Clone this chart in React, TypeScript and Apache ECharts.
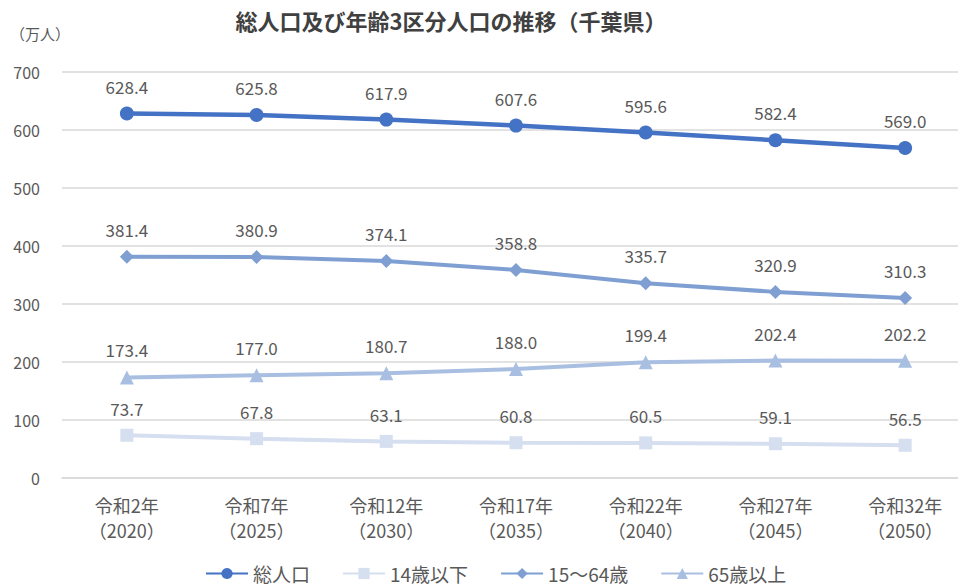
import React, { useEffect, useRef } from "react";
import * as echarts from "echarts";

const categories = [
  "令和2年\n（2020）",
  "令和7年\n（2025）",
  "令和12年\n（2030）",
  "令和17年\n（2035）",
  "令和22年\n（2040）",
  "令和27年\n（2045）",
  "令和32年\n（2050）",
];
const total = [628.4, 625.8, 617.9, 607.6, 595.6, 582.4, 569.0];
const under14 = [73.7, 67.8, 63.1, 60.8, 60.5, 59.1, 56.5];
const age15to64 = [381.4, 380.9, 374.1, 358.8, 335.7, 320.9, 310.3];
const over65 = [173.4, 177.0, 180.7, 188.0, 199.4, 202.4, 202.2];
const yTicks = [0, 100, 200, 300, 400, 500, 600, 700];

const FONT = "'Noto Sans CJK JP', 'Noto Sans', sans-serif";

export default function App() {
  const ref = useRef<HTMLDivElement>(null);
  useEffect(() => {
    document.body.style.margin = "0";
    document.body.style.overflow = "hidden";
    if (!ref.current) return;
    const chart = echarts.init(ref.current, null, { renderer: "svg" });
    const mk = (name: string, data: number[], color: string, symbol: string, size: number, width: number, z: number) => ({
      name,
      type: "line",
      data,
      symbol,
      symbolSize: size,
      z,
      lineStyle: { color, width },
      itemStyle: { color },
      label: {
        show: true,
        position: "top",
        distance: 12,
        fontSize: 17,
        fontFamily: FONT,
        color: "#595959",
        formatter: (p: any) => Number(p.value).toFixed(1),
      },
    });
    chart.setOption({
      animation: false,
      textStyle: { fontFamily: FONT },
      title: {
        text: "総人口及び年齢3区分人口の推移（千葉県）",
        left: 446,
        textAlign: "center",
        top: 4,
        textStyle: { fontSize: 22, fontWeight: "bold", color: "#404040", fontFamily: FONT },
      },
      graphic: [
        {
          type: "text",
          left: 10,
          top: 26,
          style: { text: "（万人）", fontSize: 15, fill: "#595959", fontFamily: FONT },
        },
      ],
      legend: {
        bottom: 0,
        left: 200,
        itemWidth: 42,
        itemHeight: 14,
        itemGap: 32,
        textStyle: { fontSize: 19, color: "#595959", fontFamily: FONT },
        data: ["総人口", "14歳以下", "15～64歳", "65歳以上"],
      },
      grid: { left: 62, top: 72, width: 908, height: 406, containLabel: false },
      xAxis: {
        type: "category",
        data: categories,
        boundaryGap: true,
        axisLine: { lineStyle: { color: "#D9D9D9", width: 1.5 } },
        axisTick: { show: false },
        axisLabel: {
          fontSize: 18,
          color: "#595959",
          lineHeight: 25,
          margin: 14,
          fontFamily: FONT,
        },
      },
      yAxis: {
        type: "value",
        min: 0,
        max: 700,
        interval: 100,
        axisLine: { show: false },
        axisTick: { show: false },
        splitLine: { lineStyle: { color: "#D9D9D9", width: 1.5 } },
        axisLabel: {
          fontSize: 16,
          color: "#595959",
          margin: 22,
          fontFamily: FONT,
          formatter: (v: number) => (yTicks.includes(v) ? String(v) : ""),
        },
      },
      series: [
        mk("総人口", total, "#4472C4", "circle", 14, 4.5, 5),
        mk("14歳以下", under14, "#D5DFF0", "rect", 13, 4, 2),
        mk("15～64歳", age15to64, "#7F9FD2", "diamond", 14, 4, 4),
        mk("65歳以上", over65, "#A9BFE2", "triangle", 14, 4, 3),
      ],
    });
    return () => chart.dispose();
  }, []);
  return <div ref={ref} style={{ width: 980, height: 588 }} />;
}
